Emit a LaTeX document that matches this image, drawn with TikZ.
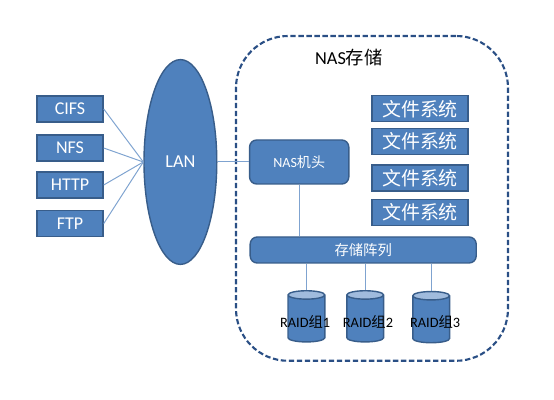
\documentclass[tikz,border=0pt]{standalone}
\usepackage{fontspec}
\setmainfont{Carlito}
\newfontfamily\cjk{Noto Sans CJK SC}
\definecolor{BoxBlue}{HTML}{4F81BD}
\definecolor{EdgeBlue}{HTML}{385D8A}
\definecolor{LineBlue}{HTML}{7FA3D0}
\definecolor{DashNavy}{HTML}{2A4F85}
\definecolor{TopBlue}{HTML}{A0BBDD}
\usetikzlibrary{positioning, shapes.geometric, calc}

\begin{document}
\begin{tikzpicture}[
  node distance=0.3cm and 0.9cm,
  proto/.style={draw=EdgeBlue, line width=1pt, fill=BoxBlue, text=white,
                minimum width=1.65cm, minimum height=0.65cm, inner sep=0pt,
                font=\fontsize{12.8}{14}\selectfont},
  fsbox/.style={proto, minimum width=2.4cm, font=\fontsize{13.5}{15}\selectfont\cjk},
  unit/.style={draw=EdgeBlue, line width=1pt, fill=BoxBlue, text=white,
               rounded corners=5pt, inner sep=0pt, align=center},
  raid/.style={draw=EdgeBlue, line width=1pt, cylinder, shape border rotate=90,
               aspect=0.3, cylinder uses custom fill, cylinder body fill=BoxBlue,
               cylinder end fill=TopBlue, minimum width=0.92cm, minimum height=1.28cm,
               inner sep=0pt},
  raidtext/.style={text=black, inner sep=0pt, font=\fontsize{10.2}{12}\selectfont},
  wire/.style={LineBlue, line width=0.7pt}
]
  \useasboundingbox (0,0) rectangle (13.85,10);

  % NAS frame
  \node[draw=DashNavy, line width=1.5pt, dash pattern=on 3.8pt off 1.9pt, rounded corners=1.3cm,
        minimum width=6.8cm, minimum height=8.12cm, inner sep=0pt] (nasframe) at (9.3,5.04) {};
  \node[text=black, inner sep=0pt, font=\fontsize{13}{15}\selectfont] (nastitle) at (8.72,8.55) {NAS{\cjk 存储}};

  % Protocols
  \node[proto] (cifs) at (1.75,7.275) {CIFS};
  \node[proto, below=0.29cm of cifs] (nfs) {NFS};
  \node[proto, below=0.24cm of nfs] (http) {HTTP};
  \node[proto, below=0.28cm of http] (ftp) {FTP};

  % LAN
  \node[draw=EdgeBlue, line width=1pt, fill=BoxBlue, text=white, ellipse, inner sep=0pt,
        minimum width=1.82cm, minimum height=5.12cm,
        font=\fontsize{13}{15}\selectfont] (lan) at (4.51,5.95) {LAN};

  % NAS head and array
  \node[unit, minimum width=2.48cm, minimum height=1.1cm,
        font=\fontsize{10}{12}\selectfont] (nashead) at (7.48,5.95) {NAS{\cjk 机头}};
  \node[unit, minimum width=5.65cm, minimum height=0.65cm,
        font=\fontsize{10.2}{12}\selectfont\cjk] (array) at (9.08,3.75) {存储阵列};

  % File systems
  \node[fsbox] (fsa) at (10.5,7.28) {文件系统};
  \node[fsbox, below=0.13cm of fsa] (fsb) {文件系统};
  \node[fsbox, below=0.23cm of fsb] (fsc) {文件系统};
  \node[fsbox, below=0.18cm of fsc] (fsd) {文件系统};

  % RAID groups
  \node[raid] (raida) at (7.66,2.03) {\phantom{\rule{0.7cm}{0.7cm}}};
  \node[raid] (raidb) at (9.13,2.03) {\phantom{\rule{0.7cm}{0.7cm}}};
  \node[raid] (raidc) at (10.78,2.01) {\phantom{\rule{0.7cm}{0.7cm}}};
  \node[raidtext] (texta) at ($(raida.center)+(-0.03,-0.07)$) {RAID{\cjk 组}1};
  \node[raidtext] (textb) at ($(raidb.center)+(0.07,-0.07)$) {RAID{\cjk 组}2};
  \node[raidtext] (textc) at ($(raidc.center)+(0.1,-0.07)$) {RAID{\cjk 组}3};

  % Wires
  \draw[wire] (cifs.east) -- (lan.west);
  \draw[wire] (nfs.east)  -- (lan.west);
  \draw[wire] (http.east) -- (lan.west);
  \draw[wire] (ftp.east)  -- (lan.west);
  \draw[wire] (lan) -- (nashead);
  \draw[wire] (nashead.south) -- (nashead.south |- array.north);
  \draw[wire] (raida.north |- array.south) -- (raida.north);
  \draw[wire] (raidb.north |- array.south) -- (raidb.north);
  \draw[wire] (raidc.north |- array.south) -- (raidc.north);
\end{tikzpicture}
\end{document}
